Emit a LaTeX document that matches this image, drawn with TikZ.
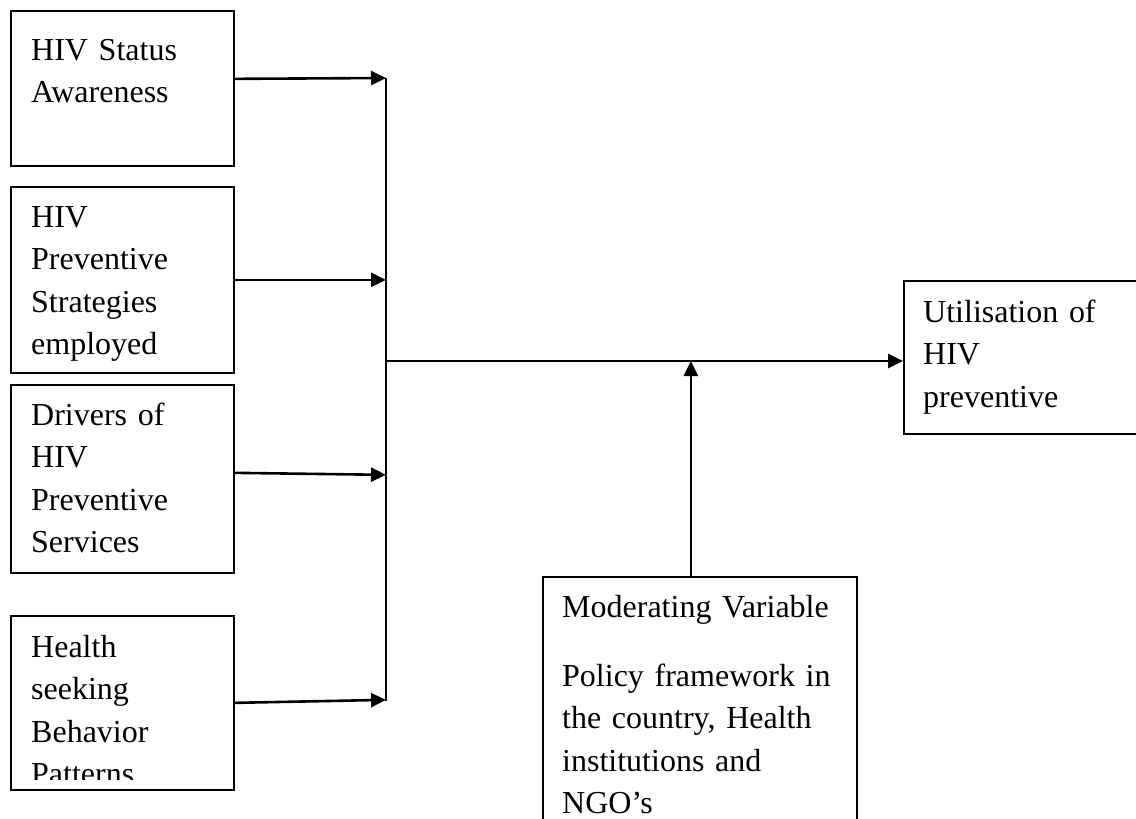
\documentclass[tikz,border=0pt]{standalone}
\usepackage{fontspec}
\setmainfont{Liberation Serif}
\usetikzlibrary{arrows.meta,calc}

\begin{document}
\begin{tikzpicture}[
   x=1pt, y=-1pt,
   var box/.style={
       draw,
       rectangle,
       line width=1.7pt,
       inner sep=0pt,
       anchor=north west
   },
   box text/.style={
       anchor=base west,
       inner sep=0pt,
       text width=#1,
       align=left,
       font=\fontsize{32}{42.5}\selectfont
   },
   box text/.default=200pt,
   link/.style={
       ->, >={Triangle[length=15pt,width=14pt]},
       line width=2.6pt
   }
  ]
  \clip (0,0) rectangle (1136,819);% page of the reference

  % boxes
  \node [var box, minimum width=223pt, minimum height=155pt] (status) at (10,10) {};
  \node [var box, minimum width=223pt, minimum height=186pt] (strategies) at (10,186) {};
  \node [var box, minimum width=223pt, minimum height=188pt] (drivers) at (10,384) {};
  \node [var box, minimum width=223pt, minimum height=174pt] (behavior) at (10,615) {};
  \node [var box, minimum width=260pt, minimum height=153pt] (utilisation) at (903,280) {};
  \node [var box, minimum width=314pt, minimum height=300pt] (moderator) at (542,576) {};

  % texts
  \node [box text] (status text) at ($(status.north west)+(21,50)$) {HIV Status\\Awareness};
  \node [box text] (strategies text) at ($(strategies.north west)+(21,41)$) {HIV\\Preventive\\Strategies\\employed};
  \node [box text] (drivers text) at ($(drivers.north west)+(21,41)$) {Drivers of\\HIV\\Preventive\\Services};
  \begin{scope}
    \clip (behavior.north west) rectangle ($(behavior.south east)+(0,-11)$);
    \node [box text] (behavior text) at ($(behavior.north west)+(21,42)$) {Health\\seeking\\Behavior\\Patterns};
  \end{scope}
  \node [box text] (utilisation text) at ($(utilisation.north west)+(20,42)$) {Utilisation of\\HIV\\preventive};
  \node [box text=300pt] (moderator text) at ($(moderator.north west)+(20,41)$)
     {Moderating Variable\\[26.5pt]Policy framework in\\the country, Health\\institutions and\\NGO’s};

  % connectors
  \coordinate (bus top) at (386,78);
  \coordinate (bus bottom) at (386,701);
  \coordinate (junction) at (386,361);
  \coordinate (moderator foot) at ([xshift=-9pt]moderator.north);
  \draw [line width=2pt] (bus top) -- (bus bottom);
  \draw [link] ([yshift=9.5pt]status.east) -- (bus top);
  \draw [link] (strategies.east) -- (strategies.east -| bus top);
  \draw [link] ([yshift=6pt]drivers.east) -- ([yshift=4pt]drivers.east -| bus top);
  \draw [link] (behavior.east) -- ([yshift=3pt]behavior.east -| bus top);
  \draw [link] (junction) -- (junction -| utilisation.west);
  \draw [link] (moderator foot) -- (moderator foot |- junction);
\end{tikzpicture}
\end{document}
